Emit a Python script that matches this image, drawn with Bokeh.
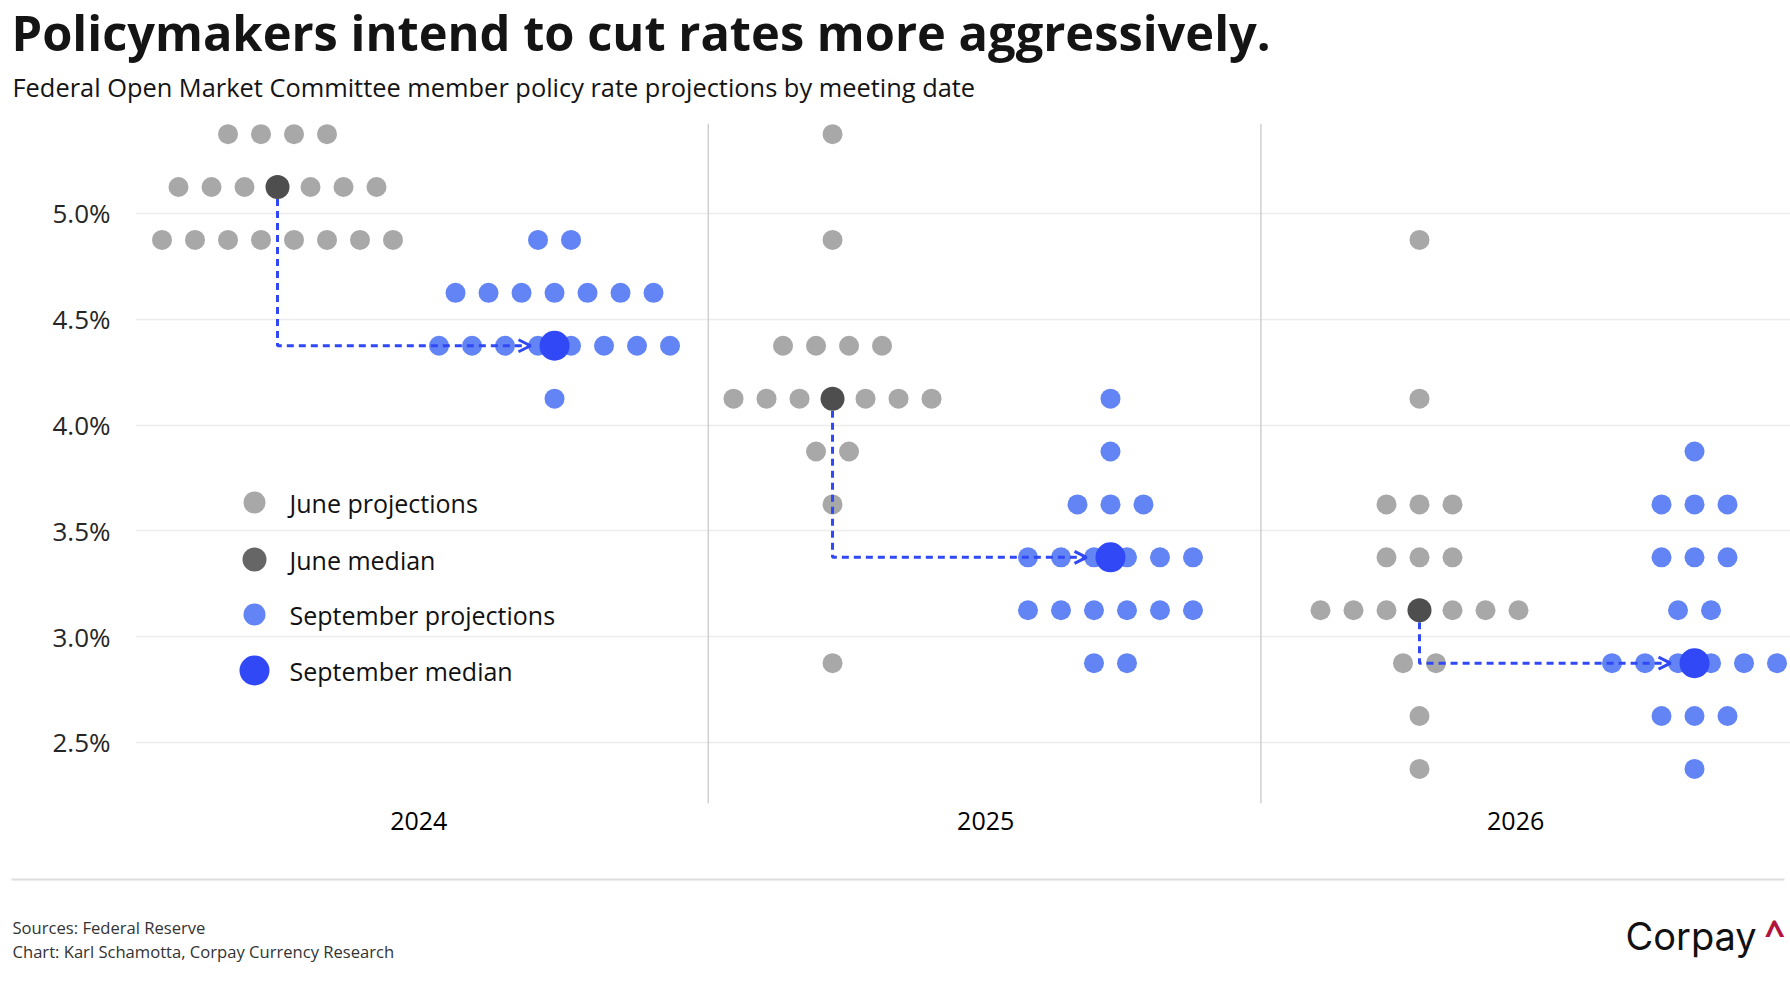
from bokeh.plotting import figure
from bokeh.layouts import column
from bokeh.models import (Range1d, FixedTicker, PrintfTickFormatter, Span, Label,
                          Arrow, OpenHead)
from bokeh.embed import file_html
from bokeh.resources import INLINE

# ---------------- data ----------------
years = ["2024", "2025", "2026"]
rates = [5.375, 5.125, 4.875, 4.625, 4.375, 4.125, 3.875, 3.625, 3.375, 3.125, 2.875, 2.625, 2.375]
june_2024 = [4, 7, 8, 0, 0, 0, 0, 0, 0, 0, 0, 0, 0]
sep_2024 = [0, 0, 2, 7, 8, 1, 0, 0, 0, 0, 0, 0, 0]
june_2025 = [1, 0, 1, 0, 4, 7, 2, 1, 0, 0, 1, 0, 0]
sep_2025 = [0, 0, 0, 0, 0, 1, 1, 3, 6, 6, 2, 0, 0]
june_2026 = [0, 0, 1, 0, 0, 1, 0, 3, 3, 7, 2, 1, 1]
sep_2026 = [0, 0, 0, 0, 0, 0, 1, 3, 3, 2, 6, 3, 1]
june_median = [5.125, 4.125, 3.125]
sep_median = [4.375, 3.375, 2.875]
y_ticks = [2.5, 3.0, 3.5, 4.0, 4.5, 5.0]
legend_labels = ["June projections", "June median", "September projections", "September median"]
title_text = "Policymakers intend to cut rates more aggressively."
subtitle_text = "Federal Open Market Committee member policy rate projections by meeting date"
source_lines = ["Sources: Federal Reserve", "Chart: Karl Schamotta, Corpay Currency Research"]
logo_text = "Corpay"

# ---------------- layout / style ----------------
W = 1790
HEAD_H, MAIN_H, FOOT_H = 110, 756, 134
MAIN_TOP = HEAD_H                      # page y of the main figure's top
FL, FT, FR, FB = 135, 123, 1790, 803   # frame edges in page px
X0, X1 = -0.0366, 2.9584
Y0, Y1 = 2.2117, 5.4253
PXU = (FR - FL) / (X1 - X0)
PYU = (FB - FT) / (Y1 - Y0)


def sx(px):
    return X0 + (px - FL) / PXU


def sy(py):
    return Y1 - (py - FT) / PYU


june_x = [0.2204, 1.2248, 2.2870]
sep_x = [0.7217, 1.7278, 2.7847]
year_label_x = [0.476, 1.502, 2.461]
SP = 33 / PXU

GRAY = "#a8a8a8"
DARK = "#4e4e4e"
BLUE = "#6284f4"
BLUE_MED = "#3048f5"
FONT = "Open Sans"
INK = "#141414"


def row_points(counts, cx):
    xs, ys = [], []
    for r, n in zip(rates, counts):
        for i in range(n):
            xs.append(cx + (i - (n - 1) / 2) * SP)
            ys.append(r)
    return xs, ys


def blank_fig(h):
    f = figure(width=W, height=h, x_range=Range1d(0, W), y_range=Range1d(h, 0),
               x_axis_type=None, y_axis_type=None, output_backend="svg",
               toolbar_location=None, min_border=0, title=None)
    f.frame_align = False
    f.outline_line_color = None
    f.background_fill_color = "white"
    f.border_fill_color = "white"
    return f


# ---------------- header ----------------
head = blank_fig(HEAD_H)
head.add_layout(Label(x=11, y=31, text=title_text, text_font=FONT, text_font_size="48.8px",
                      text_font_style="bold", text_color=INK, text_baseline="middle"))
head.add_layout(Label(x=12, y=86, text=subtitle_text, text_font=FONT, text_font_size="25.4px",
                      text_color=INK, text_baseline="middle"))

# ---------------- main chart ----------------
p = figure(width=W, height=MAIN_H, x_range=Range1d(X0, X1), y_range=Range1d(Y0, Y1),
           output_backend="svg", toolbar_location=None, title=None,
           min_border_left=FL, min_border_top=FT - MAIN_TOP, min_border_right=W - FR,
           min_border_bottom=MAIN_TOP + MAIN_H - FB)
p.frame_align = False
p.outline_line_color = None
p.background_fill_color = "white"
p.border_fill_color = "white"

p.yaxis.ticker = FixedTicker(ticks=y_ticks)
p.yaxis.formatter = PrintfTickFormatter(format="%.1f%%")
p.yaxis.axis_line_color = None
p.yaxis.major_tick_line_color = None
p.yaxis.minor_tick_line_color = None
p.yaxis.major_label_standoff = 19
p.yaxis.major_label_text_font = FONT
p.yaxis.major_label_text_font_size = "26px"
p.yaxis.major_label_text_color = "#262626"

p.xaxis.ticker = FixedTicker(ticks=year_label_x)
p.xaxis.major_label_overrides = {x: y for x, y in zip(year_label_x, years)}
p.xaxis.axis_line_color = None
p.xaxis.major_tick_line_color = None
p.xaxis.minor_tick_line_color = None
p.xaxis.major_label_standoff = 2
p.xaxis.major_label_text_font = FONT
p.xaxis.major_label_text_font_size = "25px"
p.xaxis.major_label_text_color = "#000000"

p.xgrid.grid_line_color = None
p.ygrid.grid_line_color = "#ececec"
p.ygrid.grid_line_width = 1.5

for b in (1, 2):
    p.add_layout(Span(location=b, dimension="height", line_color="#d0d0d0", line_width=1.5))

june_sets = [june_2024, june_2025, june_2026]
sep_sets = [sep_2024, sep_2025, sep_2026]
jx, jy, bx, by = [], [], [], []
for k in range(3):
    a, b = row_points(june_sets[k], june_x[k])
    jx += a
    jy += b
    a, b = row_points(sep_sets[k], sep_x[k])
    bx += a
    by += b
p.scatter(jx, jy, size=20, color=GRAY, line_color=None)
p.scatter(bx, by, size=20, color=BLUE, line_color=None)

for k in range(3):
    tip = sep_x[k] - 24 / PXU
    p.line([june_x[k], june_x[k], tip], [june_median[k], sep_median[k], sep_median[k]],
           line_color=BLUE_MED, line_width=3, line_dash="7 5")
    p.add_layout(Arrow(end=OpenHead(size=12, line_color=BLUE_MED, line_width=3),
                       x_start=tip - 0.002, y_start=sep_median[k], x_end=tip, y_end=sep_median[k],
                       line_alpha=0))

p.scatter(june_x, june_median, size=24, color=DARK, line_color=None)
p.scatter(sep_x, sep_median, size=30, color=BLUE_MED, line_color=None)

# legend
leg_rows = [502, 559, 614, 670]
leg_sizes = [22, 24, 22, 30]
leg_colors = [GRAY, "#666666", BLUE, BLUE_MED]
p.scatter([sx(254)] * 4, [sy(r) for r in leg_rows], size=leg_sizes, color=leg_colors, line_color=None)
for r, t in zip(leg_rows, legend_labels):
    p.add_layout(Label(x=sx(289), y=sy(r), text=t, text_font=FONT, text_font_size="25px",
                       text_color="#111111", text_baseline="middle"))

# ---------------- footer ----------------
foot = blank_fig(FOOT_H)
foot.line([11, 1784], [13, 13], line_color="#dedede", line_width=2)
for i, t in enumerate(source_lines):
    foot.add_layout(Label(x=12, y=61 + 24 * i, text=t, text_font=FONT, text_font_size="16.6px",
                          text_color="#333333", text_baseline="middle"))
foot.add_layout(Label(x=1625, y=69.5, text=logo_text, text_font="Inter", text_font_size="38px",
                      text_color="#111111", text_baseline="middle"))
foot.add_layout(Label(x=1764, y=66, text="^", text_font=FONT, text_font_size="36px",
                      text_font_style="bold", text_color="#b3123c", text_baseline="middle"))

layout = column(head, p, foot, spacing=0)
open("out.html", "w").write(file_html(layout, INLINE))
